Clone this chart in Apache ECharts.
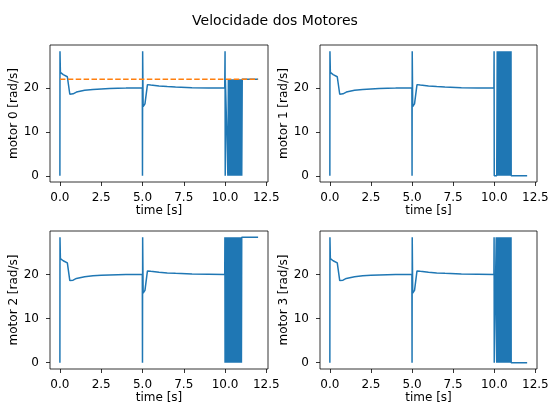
<!DOCTYPE html>
<html>
<head>
<meta charset="utf-8">
<script src="https://cdn.jsdelivr.net/npm/echarts@6/dist/echarts.min.js"></script>
<style>
  html, body { margin: 0; padding: 0; background: #fff; }
  #chart { width: 550px; height: 408px; }
</style>
</head>
<body>
<div id="chart"></div>
<script>
// curva comum aos 4 motores (0 a 10 s)
var baseTime  = [0, 0.005, 0.03, 0.2, 0.45, 0.6, 0.8, 1.0, 1.5, 2.0, 2.5, 3.0, 3.5, 4.0, 4.99, 5.0, 5.01, 5.04, 5.15, 5.3, 5.5, 6.0, 6.5, 7.0, 8.0, 9.0, 9.98];
var baseSpeed = [0, 28.4, 23.6, 23.1, 22.6, 18.6, 18.7, 19.1, 19.5, 19.7, 19.8, 19.9, 19.95, 20.0, 20.0, 0, 28.4, 15.8, 16.4, 20.8, 20.7, 20.5, 20.35, 20.25, 20.1, 20.05, 20.0];

// trecho final de cada motor (10 a 12 s)
var m0Time  = [10.0, 10.01, 10.02, 10.14, 10.17, 10.2, 10.23, 10.26, 10.29, 10.32, 10.35, 10.38, 10.41, 10.44, 10.47, 10.5, 10.53, 10.56, 10.59, 10.62, 10.65, 10.68, 10.71, 10.74, 10.77, 10.8, 10.83, 10.86, 10.89, 10.92, 10.95, 10.98, 11.01, 11.04, 12.0];
var m0Speed = [28.4, 0, 22, 22, 0, 22, 0, 22, 0, 22, 0, 22, 0, 22, 0, 22, 0, 22, 0, 22, 0, 22, 0, 22, 0, 22, 0, 22, 0, 22, 0, 22, 0, 22, 22];

var m1Time  = [9.99, 10.0, 10.15, 10.18, 10.21, 10.24, 10.27, 10.3, 10.33, 10.36, 10.39, 10.42, 10.45, 10.48, 10.51, 10.54, 10.57, 10.6, 10.63, 10.66, 10.69, 10.72, 10.75, 10.78, 10.81, 10.84, 10.87, 10.9, 10.93, 10.96, 10.99, 11.02, 11.03, 12.0];
var m1Speed = [28.4, 0, 0, 28.4, 0, 28.4, 0, 28.4, 0, 28.4, 0, 28.4, 0, 28.4, 0, 28.4, 0, 28.4, 0, 28.4, 0, 28.4, 0, 28.4, 0, 28.4, 0, 28.4, 0, 28.4, 0, 28.4, 0, 0];

var m2Time  = [9.99, 10.0, 10.02, 10.04, 10.06, 10.09, 10.12, 10.15, 10.18, 10.21, 10.24, 10.27, 10.3, 10.33, 10.36, 10.39, 10.42, 10.45, 10.48, 10.51, 10.54, 10.57, 10.6, 10.63, 10.66, 10.69, 10.72, 10.75, 10.78, 10.81, 10.84, 10.87, 10.9, 10.93, 10.96, 10.99, 11.01, 12.0];
var m2Speed = [28.4, 0, 28.4, 10, 28.4, 0, 28.4, 0, 28.4, 0, 28.4, 0, 28.4, 0, 28.4, 0, 28.4, 0, 28.4, 0, 28.4, 0, 28.4, 0, 28.4, 0, 28.4, 0, 28.4, 0, 28.4, 0, 28.4, 0, 28.4, 0, 28.4, 28.4];

var m3Time  = [9.99, 10.0, 10.09, 10.12, 10.15, 10.18, 10.21, 10.24, 10.27, 10.3, 10.33, 10.36, 10.39, 10.42, 10.45, 10.48, 10.51, 10.54, 10.57, 10.6, 10.63, 10.66, 10.69, 10.72, 10.75, 10.78, 10.81, 10.84, 10.87, 10.9, 10.93, 10.96, 10.99, 11.02, 11.03, 12.0];
var m3Speed = [28.4, 0, 0, 28.4, 0, 28.4, 0, 28.4, 0, 28.4, 0, 28.4, 0, 28.4, 0, 28.4, 0, 28.4, 0, 28.4, 0, 28.4, 0, 28.4, 0, 28.4, 0, 28.4, 0, 28.4, 0, 28.4, 0, 28.4, 0, 0];

// referencia do motor 0 (linha tracejada)
var refTime  = [0, 12];
var refSpeed = [22, 22];

var xTicks = [0, 2.5, 5, 7.5, 10, 12.5];
var yTicks = [0, 10, 20];
var motorNames = ['motor 0 [rad/s]', 'motor 1 [rad/s]', 'motor 2 [rad/s]', 'motor 3 [rad/s]'];

function pairs(t, v) {
    var res = [];
    for (var i = 0; i < t.length; i++) res.push([t[i], v[i]]);
    return res;
}

var tails = [[m0Time, m0Speed], [m1Time, m1Speed], [m2Time, m2Speed], [m3Time, m3Speed]];
var boxes = [
    {left: 50, top: 45, width: 218, height: 137},
    {left: 320, top: 45, width: 217, height: 137},
    {left: 50, top: 231, width: 218, height: 138},
    {left: 320, top: 231, width: 217, height: 138}
];

var font = 'DejaVu Sans';
var grids = [], xAxes = [], yAxes = [], series = [];

for (var k = 0; k < 4; k++) {
    grids.push({
        left: boxes[k].left, top: boxes[k].top, width: boxes[k].width, height: boxes[k].height,
        show: true, borderColor: '#000', borderWidth: 0.8, backgroundColor: 'transparent',
        containLabel: false, outerBoundsMode: 'none'
    });
    xAxes.push({
        type: 'value', gridIndex: k, min: -0.6, max: 12.6,
        name: 'time [s]', nameLocation: 'middle', nameGap: 23,
        nameTextStyle: {fontFamily: font, fontSize: 12, color: '#000'},
        axisLine: {show: false, onZero: false},
        axisTick: {show: true, inside: false, length: 4, lineStyle: {color: '#000', width: 0.8}, customValues: xTicks},
        axisLabel: {show: true, margin: 10, fontFamily: font, fontSize: 12, color: '#000', customValues: xTicks,
            formatter: function (v) { return v.toFixed(1); }},
        splitLine: {show: false}
    });
    yAxes.push({
        type: 'value', gridIndex: k, min: -1.42, max: 29.84,
        name: motorNames[k], nameLocation: 'middle', nameGap: 26,
        nameTextStyle: {fontFamily: font, fontSize: 12, color: '#000'},
        axisLine: {show: false, onZero: false},
        axisTick: {show: true, inside: false, length: 4, lineStyle: {color: '#000', width: 0.8}, customValues: yTicks},
        axisLabel: {show: true, margin: 11, fontFamily: font, fontSize: 12, color: '#000', customValues: yTicks},
        splitLine: {show: false}
    });
    series.push({
        type: 'line', xAxisIndex: k, yAxisIndex: k,
        data: pairs(baseTime.concat(tails[k][0]), baseSpeed.concat(tails[k][1])),
        showSymbol: false, symbol: 'none', animation: false,
        lineStyle: {color: '#1f77b4', width: 1.5}
    });
}

series.push({
    type: 'line', xAxisIndex: 0, yAxisIndex: 0,
    data: pairs(refTime, refSpeed),
    showSymbol: false, symbol: 'none', animation: false,
    lineStyle: {color: '#ff7f0e', width: 1.5, type: [5.5, 2.4]}
});

var myChart = echarts.init(document.getElementById('chart'), null, {renderer: 'canvas'});
myChart.setOption({
    animation: false,
    backgroundColor: '#fff',
    title: {
        text: 'Velocidade dos Motores', left: 'center', top: 9,
        textStyle: {fontFamily: font, fontSize: 14, fontWeight: 'normal', color: '#000'}
    },
    grid: grids,
    xAxis: xAxes,
    yAxis: yAxes,
    series: series
});
</script>
</body>
</html>
